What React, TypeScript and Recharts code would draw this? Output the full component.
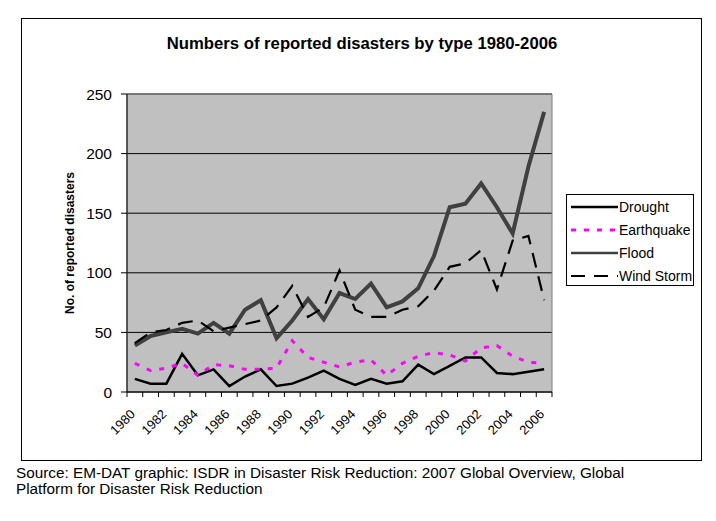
import { CartesianGrid, Line, LineChart, ReferenceArea, XAxis, YAxis } from "recharts";

// Numbers of reported disasters by type, 1980-2006 (EM-DAT / ISDR)

const years = [
  1980, 1981, 1982, 1983, 1984, 1985, 1986, 1987, 1988, 1989, 1990, 1991, 1992, 1993,
  1994, 1995, 1996, 1997, 1998, 1999, 2000, 2001, 2002, 2003, 2004, 2005, 2006,
];
const drought = [11, 7, 7, 32, 14, 19, 5, 13, 19, 5, 7, 12, 18, 11, 6, 11, 7, 9, 23, 15, 22, 29, 29, 16, 15, 17, 19];
const earthquake = [24, 18, 20, 24, 14, 23, 22, 19, 19, 20, 43, 29, 25, 21, 25, 27, 14, 24, 30, 33, 31, 26, 37, 39, 30, 25, 24];
const flood = [39, 47, 50, 53, 49, 58, 49, 69, 77, 45, 60, 78, 61, 83, 78, 91, 71, 76, 87, 114, 155, 158, 175, 155, 133, 189, 235];
const windStorm = [41, 50, 52, 58, 60, 51, 54, 57, 60, 71, 89, 63, 71, 102, 69, 63, 63, 69, 72, 85, 105, 108, 119, 86, 127, 131, 77];

const yTicks = [0, 50, 100, 150, 200, 250];
// tick marks sit between the years, like a category axis
const xBoundaries = [...years.map((y) => y - 0.5), years[years.length - 1] + 0.5];

const data = years.map((year, i) => ({
  year,
  drought: drought[i],
  earthquake: earthquake[i],
  flood: flood[i],
  windStorm: windStorm[i],
}));

const FONT = '"Liberation Sans", Arial, sans-serif';
const HALF_STEP = 425 / years.length / 2;

const XTick = (props: any) => {
  const { x, y, payload } = props;
  const year = payload.value + 0.5;
  if (year % 2 !== 0 || year > 2006) return null;
  return (
    <g transform={`translate(${x + HALF_STEP + 1}, ${y + 16})`}>
      <text transform="rotate(-45)" textAnchor="end" fontSize={13} fill="#000" fontFamily={FONT}>
        {year}
      </text>
    </g>
  );
};

const legendItems = [
  { name: "Drought", stroke: "#000", width: 2.5, dash: undefined },
  { name: "Earthquake", stroke: "#ff00ff", width: 3, dash: "5 8" },
  { name: "Flood", stroke: "#404040", width: 2.5, dash: undefined },
  { name: "Wind Storm", stroke: "#000", width: 2, dash: "14 9" },
];

export default function App() {
  return (
    <div
      style={{
        position: "absolute",
        left: 0,
        top: 0,
        width: 716,
        height: 521,
        background: "#fff",
        fontFamily: FONT,
      }}
    >
      <div
        style={{
          position: "absolute",
          left: 21,
          top: 18,
          width: 679,
          height: 441,
          border: "1px solid #000",
        }}
      />
      <div
        style={{
          position: "absolute",
          left: 0,
          width: 724,
          top: 34,
          textAlign: "center",
          fontWeight: "bold",
          fontSize: 16.7,
          color: "#000",
        }}
      >
        Numbers of reported disasters by type 1980-2006
      </div>
      <div
        style={{
          position: "absolute",
          left: 70,
          top: 243,
          transform: "translate(-50%, -50%) rotate(-90deg)",
          whiteSpace: "nowrap",
          fontWeight: "bold",
          fontSize: 12,
        }}
      >
        No. of reported disasters
      </div>

      <div style={{ position: "absolute", left: 0, top: 0 }}>
        <LineChart width={716} height={521} data={data} margin={{ top: 94, right: 164, bottom: 89, left: 67 }}>
          <CartesianGrid vertical={false} stroke="#000" fill="#c0c0c0" fillOpacity={1} />
          <ReferenceArea x1={1979.5} x2={2006.5} y1={0} y2={250} fill="none" stroke="#808080" strokeWidth={1} ifOverflow="visible" />
          <XAxis
            dataKey="year"
            type="number"
            domain={[1979.5, 2006.5]}
            ticks={xBoundaries}
            interval={0}
            height={40}
            tickSize={5}
            tick={<XTick />}
            axisLine={{ stroke: "#000" }}
            tickLine={{ stroke: "#000" }}
          />
          <YAxis
            domain={[0, 250]}
            ticks={yTicks}
            width={60}
            tickSize={6}
            tickMargin={9}
            tick={{ fontSize: 15.5, fill: "#000", fontFamily: FONT }}
            axisLine={{ stroke: "#000" }}
            tickLine={{ stroke: "#000" }}
          />
          <Line dataKey="drought" stroke="#000" strokeWidth={2.5} dot={false} isAnimationActive={false} />
          <Line
            dataKey="earthquake"
            stroke="#ff00ff"
            strokeWidth={3}
            strokeDasharray="5 8"
            dot={false}
            isAnimationActive={false}
          />
          <Line dataKey="flood" stroke="#404040" strokeWidth={4} dot={false} isAnimationActive={false} />
          <Line
            dataKey="windStorm"
            stroke="#000"
            strokeWidth={2.2}
            strokeDasharray="15 9"
            dot={false}
            isAnimationActive={false}
          />
        </LineChart>
      </div>

      <div
        style={{
          position: "absolute",
          left: 566,
          top: 194,
          width: 128,
          height: 92,
          border: "1px solid #000",
          background: "#fff",
          boxSizing: "border-box",
          paddingTop: 0,
        }}
      >
        {legendItems.map((item) => (
          <div
            key={item.name}
            style={{ display: "flex", alignItems: "center", height: 23, fontSize: 14, whiteSpace: "nowrap" }}
          >
            <svg width={48} height={10} style={{ marginLeft: 3, flexShrink: 0 }}>
              <line
                x1={1}
                y1={5}
                x2={48}
                y2={5}
                stroke={item.stroke}
                strokeWidth={item.width}
                strokeDasharray={item.dash}
              />
            </svg>
            <span style={{ marginLeft: 1 }}>{item.name}</span>
          </div>
        ))}
      </div>

      <div
        style={{
          position: "absolute",
          left: 16,
          top: 465,
          fontSize: 15.3,
          lineHeight: "16px",
          width: 690,
          whiteSpace: "nowrap",
          color: "#000",
        }}
      >
        Source: EM-DAT graphic: ISDR in Disaster Risk Reduction: 2007 Global Overview, Global
        <br />
        Platform for Disaster Risk Reduction
      </div>
    </div>
  );
}
